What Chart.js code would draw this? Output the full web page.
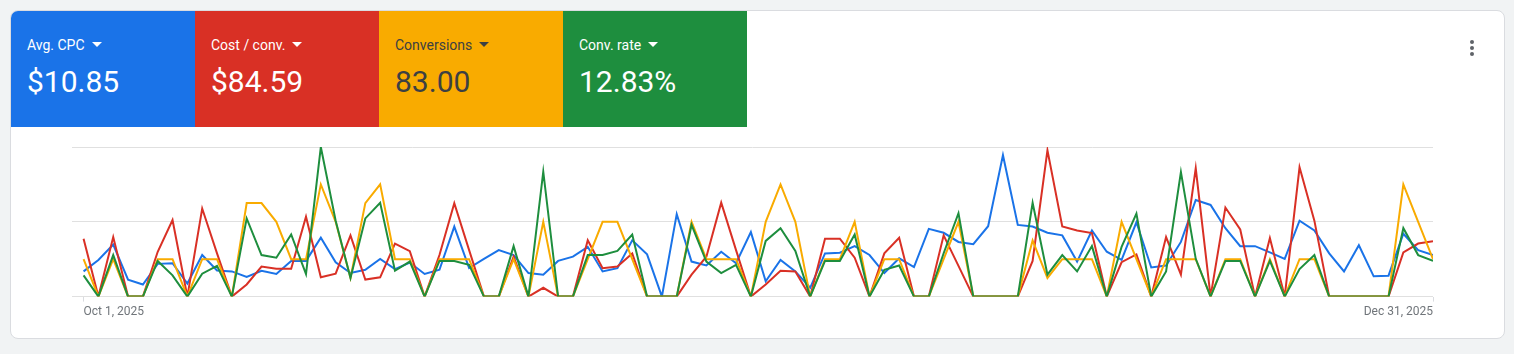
<!DOCTYPE html>
<html>
<head>
<meta charset="utf-8">
<script src="https://cdn.jsdelivr.net/npm/chart.js@4"></script>
<style>
    html, body { margin: 0; padding: 0; }
    body { width: 1514px; height: 354px; background: #f1f3f4; position: relative; overflow: hidden; font-family: Roboto, Arial, sans-serif; }
    .card { position: absolute; left: 10px; top: 10px; width: 1493px; height: 327px; background: #fff; border: 1px solid #dadce0; border-radius: 8px; }
    .tiles { position: absolute; left: 0; top: 0; display: flex; }
    .tile { width: 184px; height: 116px; color: #fff; box-sizing: border-box; padding-left: 16px; }
    .tile:first-child { border-top-left-radius: 7px; }
    .tile .label { margin-top: 25px; font-size: 14px; line-height: 18px; }
    .tile .label::after { content: ''; display: inline-block; margin-left: 7px; vertical-align: 3px; border-left: 5px solid transparent; border-right: 5px solid transparent; border-top: 5px solid currentColor; }
    .tile .value { margin-top: 10px; font-size: 30px; line-height: 36px; }
    .kebab { position: absolute; left: 1459px; top: 29px; width: 4px; }
    .kebab span { display: block; width: 4px; height: 4px; border-radius: 50%; background: #5f6368; margin-bottom: 2px; }
    #chartBox { position: absolute; left: 0; top: 128px; width: 1514px; height: 200px; }
</style>
</head>
<body>
<div class="card">
    <div class="tiles" id="tiles"></div>
    <div class="kebab"><span></span><span></span><span></span></div>
</div>
<div id="chartBox"><canvas id="chart"></canvas></div>
<script>
// Metric tiles
const metricNames = ['Avg. CPC', 'Cost / conv.', 'Conversions', 'Conv. rate'];
const metricTotals = ['$10.85', '$84.59', '83.00', '12.83%'];
const metricColors = ['#1a73e8', '#d93025', '#f9ab00', '#1e8e3e'];
const metricText = ['#fff', '#fff', '#3c4043', '#fff'];

// Axis labels
const tickLabels = ['Oct 1, 2025', 'Dec 31, 2025'];

// Daily values, Oct 1 .. Dec 31 2025
const avgCpc = [
    8.42, 12.25, 17.40, 5.69, 4.05, 10.94, 11.16, 4.38, 13.90, 8.75, 8.42, 6.56, 8.64, 7.55, 11.93,
    11.93, 19.69, 11.49, 7.88, 8.97, 12.58, 9.19, 11.38, 7.55, 8.97, 23.41, 9.52, 12.58, 15.54, 13.90, 7.88,
    7.33, 11.93, 13.35, 16.63, 8.42, 9.52, 18.82, 14.11, 0, 27.57, 11.71, 10.39, 14.99, 11.16, 21.55,
    5.14, 12.25, 8.42, 2.95, 14.44, 14.66, 16.85, 13.90, 7.88, 12.80, 9.85, 22.65, 21.33, 18.27, 17.51, 23.52,
    47.27, 23.96, 23.41, 21.33, 20.46, 11.71, 22.10, 14.99, 12.25, 24.84, 9.74, 10.39, 18.27, 32.28, 30.63,
    22.87, 16.85, 16.85, 14.77, 12.58, 25.38, 22.10, 14.44, 8.42, 17.18, 6.78, 7.00, 21.01, 15.54, 13.90
];
const costPerConv = [
    154.9, 0, 159.3, 0, 0, 119.9, 204.8, 0, 235.4, 115.5, 0, 32.4, 80.5, 74.4, 74.4,
    213.6, 51.6, 61.3, 163.7, 45.5, 51.6, 141.8, 121.7, 0, 111.2, 249.5, 124.3, 0, 0, 106.8, 0,
    23.6, 0, 0, 150.5, 76.1, 80.5, 115.5, 0, 0, 0, 58.6, 106.8, 251.2, 124.3, 0,
    32.4, 69.1, 67.4, 0, 154.9, 154.9, 104.2, 0, 115.5, 157.5, 0, 0, 163.7, 82.3, 0, 0,
    0, 0, 95.4, 391.2, 187.3, 176.8, 169.8, 0, 91.9, 112.9, 0, 159.3, 58.6, 343.1, 0,
    238.1, 179.4, 0, 156.7, 0, 345.7, 203.1, 0, 0, 0, 0, 0, 118.2, 141.8, 147.9
];
const conversions = [
    1, 0, 1, 0, 0, 1, 1, 0, 1, 1, 0, 2.5, 2.5, 2, 1,
    1, 3, 2, 0.5, 2.5, 3, 1, 1, 0, 1, 1, 1, 0, 0, 1, 0,
    2, 0, 0, 1, 2, 2, 1, 0, 0, 0, 2, 1, 1, 1, 0,
    2, 3, 2, 0, 1, 1, 2, 0, 1, 1, 0, 0, 1, 2, 0, 0,
    0, 0, 1.5, 0.5, 1, 1, 1, 0, 2, 1, 0, 1, 1, 1, 0,
    1, 1, 0, 1, 0, 1, 1, 0, 0, 0, 0, 0, 3, 2, 1
];
const convRate = [
    5.69, 0, 11.10, 0, 0, 9.54, 5.69, 0, 6.13, 8.23, 0, 20.90, 11.10, 10.40, 16.60,
    6.04, 40.00, 20.30, 4.99, 20.90, 25.10, 6.91, 9.37, 0, 9.54, 9.54, 8.49, 0, 0, 13.50, 0,
    33.40, 0, 0, 11.10, 11.10, 12.20, 16.60, 0, 0, 0, 19.20, 9.37, 6.30, 8.49, 0,
    14.90, 18.30, 12.20, 0, 9.54, 9.54, 16.60, 0, 7.18, 8.32, 0, 0, 11.60, 22.30, 0, 0,
    0, 0, 25.10, 5.86, 11.10, 6.74, 13.50, 0, 13.30, 22.20, 0, 6.74, 33.30, 10.10, 0,
    9.54, 9.54, 0, 9.54, 0, 7.35, 11.10, 0, 0, 0, 0, 0, 18.30, 11.10, 9.54
];

// Build tiles
const tilesEl = document.getElementById('tiles');
metricNames.forEach((name, i) => {
    const tile = document.createElement('div');
    tile.className = 'tile';
    tile.style.background = metricColors[i];
    tile.style.color = metricText[i];
    tile.innerHTML = `<div class="label">${name}</div><div class="value">${metricTotals[i]}</div>`;
    tilesEl.appendChild(tile);
});

const lastIndex = avgCpc.length - 1;
const toPoints = arr => arr.map((v, i) => ({ x: i, y: v }));

function lineSet(label, values, color, axis, order) {
    return {
        label: label,
        data: toPoints(values),
        borderColor: color,
        backgroundColor: color,
        borderWidth: 2,
        pointRadius: 0,
        tension: 0,
        yAxisID: axis,
        order: order
    };
}

const hiddenAxis = (max) => ({ display: false, min: 0, max: max });

new Chart(document.getElementById('chart'), {
    type: 'line',
    data: {
        datasets: [
            lineSet('Avg. CPC', avgCpc, metricColors[0], 'y', 3),
            lineSet('Cost / conv.', costPerConv, metricColors[1], 'yCost', 2),
            lineSet('Conversions', conversions, metricColors[2], 'yConv', 1),
            lineSet('Conv. rate', convRate, metricColors[3], 'yRate', 0)
        ]
    },
    options: {
        responsive: true,
        maintainAspectRatio: false,
        animation: false,
        layout: { padding: { left: 72, right: 81, top: 19, bottom: 6 } },
        plugins: { legend: { display: false }, tooltip: { enabled: false } },
        scales: {
            x: {
                type: 'linear',
                min: -0.78,
                max: lastIndex,
                border: { display: false },
                grid: { drawOnChartArea: false, drawTicks: true, tickLength: 5, tickColor: '#dadce0' },
                afterBuildTicks: axis => { axis.ticks = [{ value: 0 }, { value: lastIndex }]; },
                ticks: {
                    align: 'inner',
                    autoSkip: false,
                    maxRotation: 0,
                    padding: 3,
                    color: '#70757a',
                    font: { family: 'Roboto', size: 12 },
                    callback: v => v === 0 ? tickLabels[0] : (v === lastIndex ? tickLabels[1] : '')
                }
            },
            y: {
                min: 0,
                max: 50,
                border: { display: false },
                grid: { color: '#e0e0e0', lineWidth: 1, drawTicks: false },
                ticks: { display: false, stepSize: 25 }
            },
            yCost: hiddenAxis(400),
            yConv: hiddenAxis(4),
            yRate: hiddenAxis(40)
        }
    }
});
</script>
</body>
</html>
